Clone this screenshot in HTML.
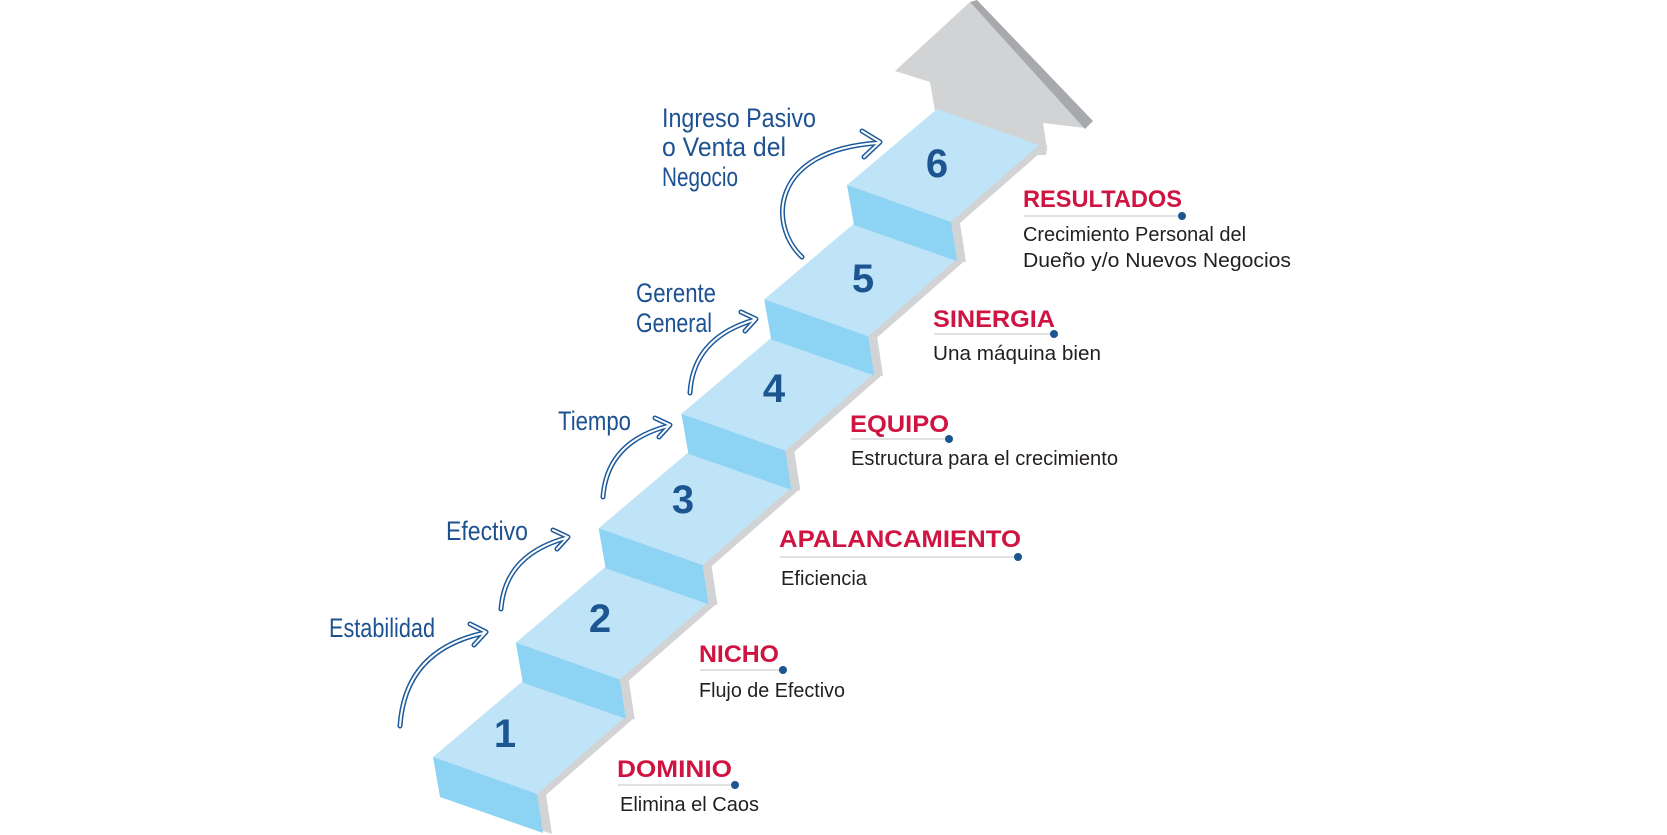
<!DOCTYPE html>
<html><head><meta charset="utf-8"><style>
html,body{margin:0;padding:0;background:#fff;}
svg{display:block}
.h{font-family:"Liberation Sans",sans-serif;font-weight:bold;font-size:24px;fill:#cf1441;}
.s{font-family:"Liberation Sans",sans-serif;font-size:20px;fill:#231f20;}
.n{font-family:"Liberation Sans",sans-serif;font-weight:bold;font-size:40px;fill:#1c5590;text-anchor:middle;}
.w{font-family:"Liberation Sans Narrow","Liberation Sans",sans-serif;font-size:27px;fill:#1d5292;}
</style></head><body>
<svg width="1667" height="835" viewBox="0 0 1667 835" xmlns="http://www.w3.org/2000/svg">
<defs>
<g id="stepg"><polygon points="433,757 523,681 625,717 537,794 543,833 440,797" fill="#d1d3d4"/></g>
<g id="step">
<polygon points="433,757 523,681 625,717 537,794" fill="#bfe3f7"/>
<polygon points="433,757 537,794 543,833 440,797" fill="#8dd3f4"/>
</g>
</defs>
<!-- arrow top -->
<polygon points="935,111 930,82 895,71 970,2 1085,128 1043,123 1047,149 1046,155 1037,155" fill="#d1d3d4"/>
<polygon points="970,2 977,0 1093,121 1085,129" fill="#a7a9ac"/>
<!-- gray sides -->
<g transform="translate(9,1)">
<use href="#stepg"/>
<use href="#stepg" transform="translate(82.8,-114.4)"/>
<use href="#stepg" transform="translate(165.6,-228.8)"/>
<use href="#stepg" transform="translate(248.4,-343.2)"/>
<use href="#stepg" transform="translate(331.2,-457.6)"/>
<use href="#stepg" transform="translate(414,-572)"/>
</g>
<use href="#step"/>
<use href="#step" transform="translate(82.8,-114.4)"/>
<use href="#step" transform="translate(165.6,-228.8)"/>
<use href="#step" transform="translate(248.4,-343.2)"/>
<use href="#step" transform="translate(331.2,-457.6)"/>
<use href="#step" transform="translate(414,-572)"/>
<!-- numbers -->
<text class="n" x="505" y="747">1</text>
<text class="n" x="600" y="632">2</text>
<text class="n" x="683" y="513">3</text>
<text class="n" x="774" y="402">4</text>
<text class="n" x="863" y="292">5</text>
<text class="n" x="937" y="177">6</text>
<!-- curved arrows -->
<g fill="none" stroke-linecap="round" stroke-linejoin="round">
<g stroke="#1d5a9a" stroke-width="5">
<path d="M400,726 Q405,650 484,633"/><path d="M470,624 L486,632 L474,645"/>
<path d="M501,609 Q505,555 566,538"/><path d="M553,530 L568,537 L557,549"/>
<path d="M603,497 Q607,442 668,426"/><path d="M655,418 L670,425 L659,437"/>
<path d="M690,393 Q693,338 754,320"/><path d="M741,312 L756,319 L745,331"/>
<path d="M802,257 C768,225 770,150 878,143"/><path d="M862,131 L880,142 L864,157"/>
</g>
<g stroke="#fff" stroke-width="2">
<path d="M400,726 Q405,650 484,633"/><path d="M470,624 L486,632 L474,645"/>
<path d="M501,609 Q505,555 566,538"/><path d="M553,530 L568,537 L557,549"/>
<path d="M603,497 Q607,442 668,426"/><path d="M655,418 L670,425 L659,437"/>
<path d="M690,393 Q693,338 754,320"/><path d="M741,312 L756,319 L745,331"/>
<path d="M802,257 C768,225 770,150 878,143"/><path d="M862,131 L880,142 L864,157"/>
</g>
</g>
<!-- handwritten labels -->
<text class="w" x="329" y="637" textLength="106" lengthAdjust="spacingAndGlyphs">Estabilidad</text>
<text class="w" x="446" y="540" textLength="82" lengthAdjust="spacingAndGlyphs">Efectivo</text>
<text class="w" x="558" y="430" textLength="73" lengthAdjust="spacingAndGlyphs">Tiempo</text>
<text class="w" x="636" y="302" textLength="80" lengthAdjust="spacingAndGlyphs">Gerente</text>
<text class="w" x="636" y="332" textLength="76" lengthAdjust="spacingAndGlyphs">General</text>
<text class="w" x="662" y="127" textLength="154" lengthAdjust="spacingAndGlyphs">Ingreso Pasivo</text>
<text class="w" x="662" y="156" textLength="124" lengthAdjust="spacingAndGlyphs">o Venta del</text>
<text class="w" x="662" y="186" textLength="76" lengthAdjust="spacingAndGlyphs">Negocio</text>
<!-- right labels -->
<g>
<text class="h" x="617" y="777" textLength="115" lengthAdjust="spacingAndGlyphs">DOMINIO</text>
<line x1="618" y1="785" x2="735" y2="785" stroke="#d5d7d9" stroke-width="1.5"/><circle cx="735" cy="785" r="4" fill="#1c5590"/>
<text class="s" x="620" y="811" textLength="139" lengthAdjust="spacingAndGlyphs">Elimina el Caos</text>

<text class="h" x="699" y="662" textLength="80" lengthAdjust="spacingAndGlyphs">NICHO</text>
<line x1="700" y1="670" x2="783" y2="670" stroke="#d5d7d9" stroke-width="1.5"/><circle cx="783" cy="670" r="4" fill="#1c5590"/>
<text class="s" x="699" y="697" textLength="146" lengthAdjust="spacingAndGlyphs">Flujo de Efectivo</text>

<text class="h" x="779" y="547" textLength="242" lengthAdjust="spacingAndGlyphs">APALANCAMIENTO</text>
<line x1="780" y1="557" x2="1018" y2="557" stroke="#d5d7d9" stroke-width="1.5"/><circle cx="1018" cy="557" r="4" fill="#1c5590"/>
<text class="s" x="781" y="585" textLength="86" lengthAdjust="spacingAndGlyphs">Eficiencia</text>

<text class="h" x="850" y="432" textLength="99" lengthAdjust="spacingAndGlyphs">EQUIPO</text>
<line x1="851" y1="439" x2="949" y2="439" stroke="#d5d7d9" stroke-width="1.5"/><circle cx="949" cy="439" r="4" fill="#1c5590"/>
<text class="s" x="851" y="465" textLength="267" lengthAdjust="spacingAndGlyphs">Estructura para el crecimiento</text>

<text class="h" x="933" y="327" textLength="122" lengthAdjust="spacingAndGlyphs">SINERGIA</text>
<line x1="934" y1="334" x2="1054" y2="334" stroke="#d5d7d9" stroke-width="1.5"/><circle cx="1054" cy="334" r="4" fill="#1c5590"/>
<text class="s" x="933" y="360" textLength="168" lengthAdjust="spacingAndGlyphs">Una máquina bien</text>

<text class="h" x="1023" y="207" textLength="159" lengthAdjust="spacingAndGlyphs">RESULTADOS</text>
<line x1="1024" y1="216" x2="1182" y2="216" stroke="#d5d7d9" stroke-width="1.5"/><circle cx="1182" cy="216" r="4" fill="#1c5590"/>
<text class="s" x="1023" y="241" textLength="223" lengthAdjust="spacingAndGlyphs">Crecimiento Personal del</text>
<text class="s" x="1023" y="267" textLength="268" lengthAdjust="spacingAndGlyphs">Dueño y/o Nuevos Negocios</text>
</g>
</svg>
</body></html>
